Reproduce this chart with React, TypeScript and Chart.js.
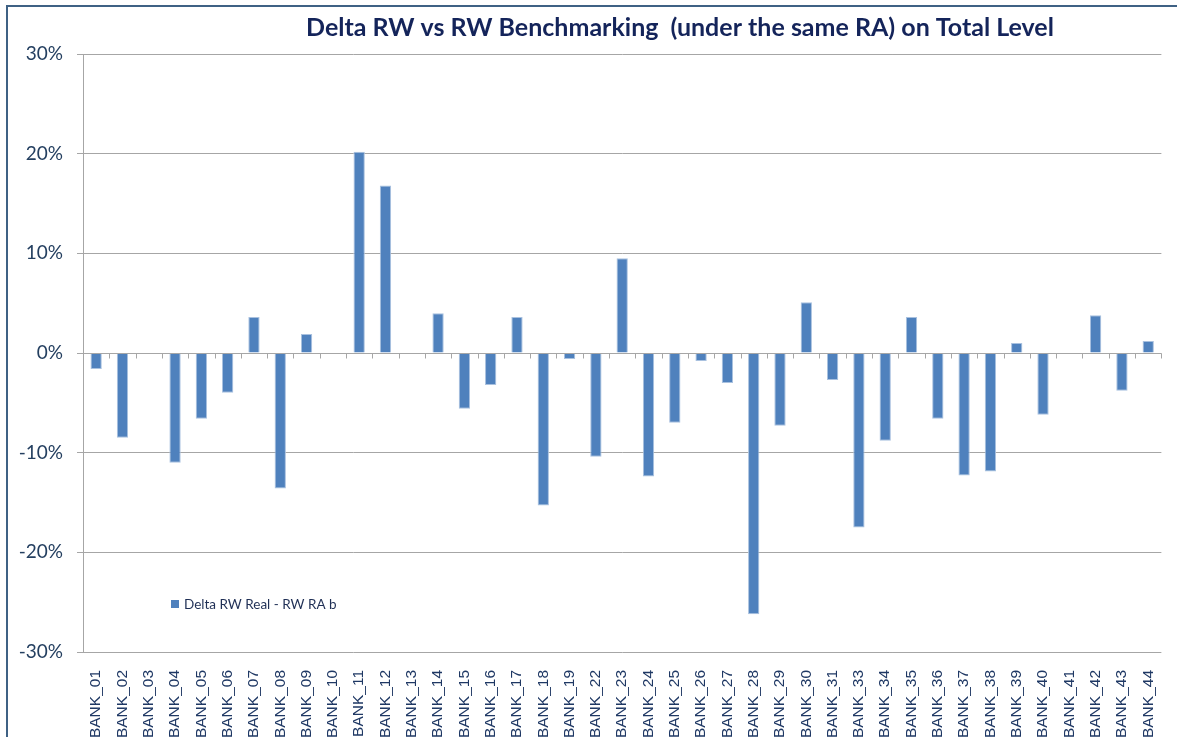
import React, { useEffect, useRef } from "react";
import { Chart, registerables } from "chart.js";

Chart.register(...registerables);

const categories = [
  "BANK_01", "BANK_02", "BANK_03", "BANK_04", "BANK_05", "BANK_06", "BANK_07", "BANK_08",
  "BANK_09", "BANK_10", "BANK_11", "BANK_12", "BANK_13", "BANK_14", "BANK_15", "BANK_16",
  "BANK_17", "BANK_18", "BANK_19", "BANK_22", "BANK_23", "BANK_24", "BANK_25", "BANK_26",
  "BANK_27", "BANK_28", "BANK_29", "BANK_30", "BANK_31", "BANK_33", "BANK_34", "BANK_35",
  "BANK_36", "BANK_37", "BANK_38", "BANK_39", "BANK_40", "BANK_41", "BANK_42", "BANK_43",
  "BANK_44",
];

const deltaValues = [
  -1.6, -8.5, 0, -11.0, -6.6, -4.0, 3.6, -13.6,
  1.9, 0, 20.2, 16.8, 0, 4.0, -5.6, -3.2,
  3.6, -15.3, -0.6, -10.4, 9.5, -12.4, -7.0, -0.8,
  -3.0, -26.2, -7.3, 5.1, -2.7, -17.5, -8.8, 3.6,
  -6.6, -12.3, -11.9, 1.0, -6.2, 0, 3.8, -3.8,
  1.2,
];

const yTicks = [-30, -20, -10, 0, 10, 20, 30];

const titleText = "Delta RW vs RW Benchmarking  (under the same RA) on Total Level";
const seriesLabel = "Delta RW Real - RW RA b";

const BAR_COLOR = "#4f81bd";
const GRID_COLOR = "#a6a6a6";
const TEXT_NAVY = "#1f3864";

const framePlugin = {
  id: "frame",
  beforeDraw(chart: any) {
    const ctx = chart.ctx;
    ctx.save();
    ctx.fillStyle = "#ffffff";
    ctx.fillRect(0, 0, chart.width, chart.height);
    ctx.strokeStyle = "#3f6184";
    ctx.lineWidth = 2;
    ctx.strokeRect(7, 6, chart.width + 20, chart.height + 20);
    ctx.restore();
  },
};

const titlePlugin = {
  id: "customTitle",
  afterDraw(chart: any) {
    const ctx = chart.ctx;
    ctx.save();
    ctx.font = "bold 25px Lato";
    ctx.fillStyle = "#14245a";
    ctx.textAlign = "center";
    ctx.textBaseline = "middle";
    ctx.fillText(titleText, 680, 28);
    ctx.restore();
  },
};

const zeroAxisPlugin = {
  id: "zeroAxis",
  afterDatasetsDraw(chart: any) {
    const ctx = chart.ctx;
    const x = chart.scales.x;
    const y = chart.scales.y;
    const y0 = Math.round(y.getPixelForValue(0)) + 0.5;
    const n = chart.data.labels.length;
    const step = (x.right - x.left) / n;
    ctx.save();
    ctx.strokeStyle = GRID_COLOR;
    ctx.lineWidth = 1;
    ctx.beginPath();
    ctx.moveTo(chart.chartArea.left, y0);
    ctx.lineTo(chart.chartArea.right, y0);
    for (let i = 1; i <= n; i++) {
      const px = Math.round(x.left + step * i) + 0.5;
      ctx.moveTo(px, y0);
      ctx.lineTo(px, y0 + 5);
    }
    ctx.stroke();
    ctx.restore();
  },
};

const legendPlugin = {
  id: "insideLegend",
  afterDraw(chart: any) {
    const ctx = chart.ctx;
    const area = chart.chartArea;
    const ds = chart.data.datasets[0];
    const lx = area.left + 88;
    const ly = area.bottom - 48;
    ctx.save();
    ctx.fillStyle = BAR_COLOR;
    ctx.fillRect(lx, ly - 4, 8, 8);
    ctx.font = "13.5px Lato";
    ctx.fillStyle = "#1f2f55";
    ctx.textBaseline = "middle";
    ctx.fillText(ds.label, lx + 13, ly + 1);
    ctx.restore();
  },
};

export default function App() {
  const canvasRef = useRef<HTMLCanvasElement | null>(null);

  useEffect(() => {
    document.body.style.margin = "0";
    const canvas = canvasRef.current;
    if (!canvas) return;
    const chart = new Chart(canvas, {
      type: "bar",
      data: {
        labels: categories,
        datasets: [
          {
            label: seriesLabel,
            data: deltaValues,
            backgroundColor: BAR_COLOR,
            borderColor: "#a9c1df",
            borderWidth: 1,
            barPercentage: 0.43,
            categoryPercentage: 1.0,
          },
        ],
      },
      options: {
        responsive: false,
        animation: false,
        devicePixelRatio: 1,
        layout: { padding: { top: 54, right: 14, left: 0, bottom: 0 } },
        plugins: {
          legend: { display: false },
          title: { display: false },
          tooltip: { enabled: false },
        },
        scales: {
          x: {
            grid: { display: false },
            border: { display: false },
            ticks: {
              autoSkip: false,
              maxRotation: 90,
              minRotation: 90,
              padding: 10,
              color: TEXT_NAVY,
              font: { family: "Liberation Sans", size: 15.5 },
            },
            afterFit(scale: any) {
              scale.height = 85;
            },
          },
          y: {
            min: -30,
            max: 30,
            afterBuildTicks(scale: any) {
              scale.ticks = yTicks.map((v) => ({ value: v }));
            },
            ticks: {
              padding: 14,
              color: "#243f60",
              font: { family: "Lato", size: 19 },
              callback: (v: any) => `${v}%`,
            },
            grid: { color: GRID_COLOR, lineWidth: 1, tickLength: 6 },
            border: { color: GRID_COLOR },
            afterFit(scale: any) {
              scale.width = 83;
            },
          },
        },
      },
      plugins: [framePlugin, zeroAxisPlugin, titlePlugin, legendPlugin],
    });
    return () => chart.destroy();
  }, []);

  return (
    <div style={{ position: "absolute", left: 0, top: 0, width: 1177, height: 737 }}>
      <canvas ref={canvasRef} width={1177} height={737} />
    </div>
  );
}
